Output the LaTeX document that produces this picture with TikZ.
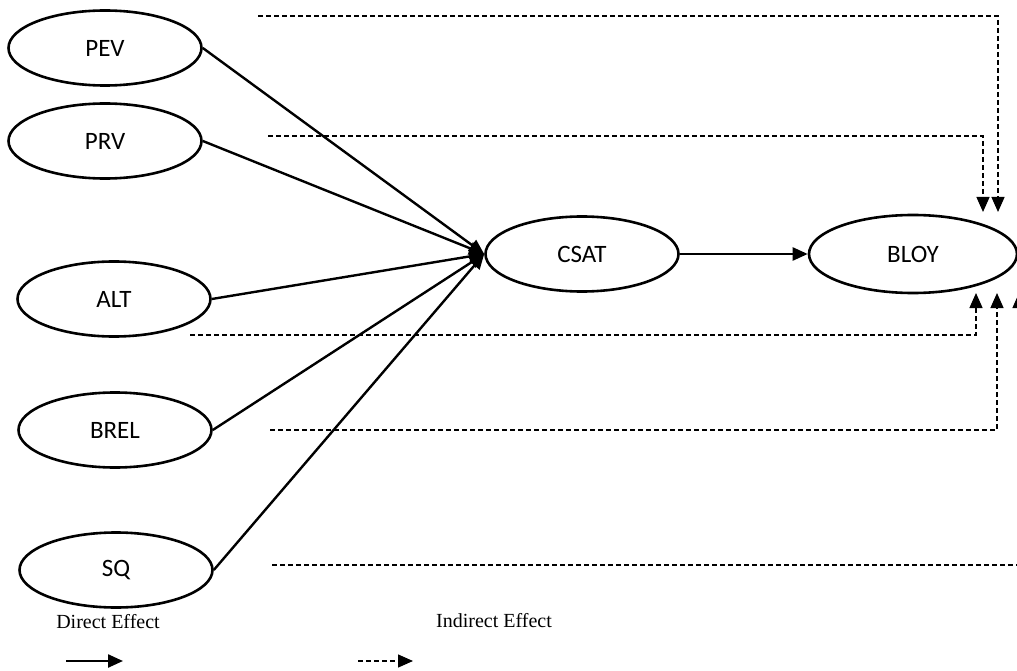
\documentclass[tikz,border=0pt]{standalone}
\usepackage{fontspec}
\setmainfont{Liberation Serif}
\newfontfamily\calib{Carlito}
\usetikzlibrary{shapes.geometric, arrows.meta, positioning}
\tikzstyle{direct} = [line width=2.4pt, -{Triangle[length=15pt,width=13pt]}]
\tikzstyle{indirect} = [line width=1.3pt, dash pattern=on 5pt off 3pt, -{Triangle[length=15pt,width=13pt]}]

\begin{document}
\begin{tikzpicture}[
  x=1pt, y=-1pt,
  construct/.style={ellipse, draw=black, line width=2.6pt, minimum width=193pt, minimum height=75pt, inner sep=0pt, font=\calib\fontsize{25}{30}\selectfont},
  legend/.style={font=\fontsize{20}{24}\selectfont}
]
\useasboundingbox (0,0) rectangle (1017,671);
\clip (0,0) rectangle (1017,671);

\node[construct] (PEV) at (105,48) {PEV};
\node[construct] (PRV) at (105,141) {PRV};
\node[construct] (ALT) at (114,299) {ALT};
\node[construct] (BREL) at (115,430) {BREL};
\node[construct] (SQ) at (116,570) {SQ};

\node[construct] (CSAT) at (582,254) {CSAT};
\node[construct, minimum width=208pt, minimum height=78pt] (BLOY) at (913,254) {BLOY};

\draw[direct] (PEV.east) -- (CSAT.west);
\draw[direct] (PRV.east) -- (CSAT.west);
\draw[direct] (ALT.east) -- (CSAT.west);
\draw[direct] (BREL.east) -- (CSAT.west);
\draw[direct] (SQ.east) -- (CSAT.west);
\draw[direct] (CSAT) -- (BLOY);

\coordinate (pevS) at (258,16);
\coordinate (prvS) at (268,136);
\coordinate (altS) at (190,335);
\coordinate (brelS) at (270,430);
\coordinate (sqS) at (272,565);

\draw[indirect] (pevS) -- (998,16) -- (998,212);
\draw[indirect] (prvS) -- (983,136) -- (983,212);
\draw[indirect] (altS) -- (976,335) -- (976,293);
\draw[indirect] (brelS) -- (997,430) -- (997,293);
\draw[indirect] (sqS) -- (1019,565) -- (1019,293);

\node[legend] (dlab) at (108,622) {Direct Effect};
\node[legend] (ilab) at (494,621) {Indirect Effect};
\coordinate (d1) at (66,661);
\coordinate (d2) at (123,661);
\coordinate (i1) at (358,661);
\coordinate (i2) at (413,661);
\draw[direct] (d1) -- (d2);
\draw[indirect] (i1) -- (i2);

\end{tikzpicture}
\end{document}
